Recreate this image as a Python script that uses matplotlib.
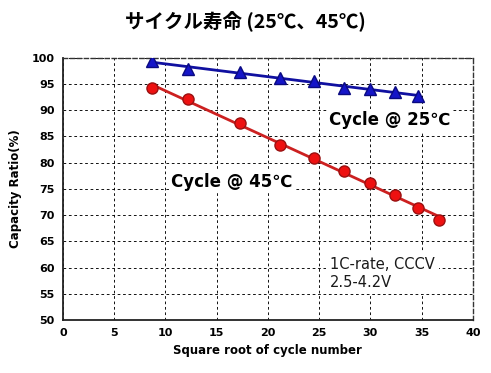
import numpy as np
import matplotlib

matplotlib.use("Agg")
import matplotlib.pyplot as plt

plt.rcParams["font.family"] = ["DejaVu Sans", "Noto Sans CJK JP"]

# sqrt of cycle number
x_25 = [8.66, 12.25, 17.32, 21.21, 24.49, 27.39, 30.0, 32.40, 34.64]
cap_25 = [99.3, 97.9, 97.3, 96.2, 95.5, 94.3, 94.0, 93.4, 92.8]
x_45 = [8.66, 12.25, 17.32, 21.21, 24.49, 27.39, 30.0, 32.40, 34.64, 36.74]
cap_45 = [94.2, 92.1, 87.5, 83.3, 80.9, 78.4, 76.2, 73.9, 71.4, 69.0]

xticks = [0, 5, 10, 15, 20, 25, 30, 35, 40]
yticks = [50, 55, 60, 65, 70, 75, 80, 85, 90, 95, 100]

fig = plt.figure(figsize=(4.91, 3.73), dpi=100)
ax = fig.add_axes([0.128, 0.142, 0.835, 0.703])

ax.set_xlim(0, 40)
ax.set_ylim(50, 100)
ax.set_xticks(xticks)
ax.set_yticks(yticks)
ax.grid(True, color="black", linestyle=(0, (3, 3)), linewidth=0.65)
ax.tick_params(length=0, labelsize=8, pad=6)
for lab in ax.get_xticklabels() + ax.get_yticklabels():
    lab.set_fontweight("bold")

for side in ("left", "bottom"):
    ax.spines[side].set_linewidth(1.3)
    ax.spines[side].set_color("#222222")
for side in ("top", "right"):
    ax.spines[side].set_linestyle((0, (3, 2)))
    ax.spines[side].set_linewidth(1.0)
    ax.spines[side].set_color("#333333")

# fitted trend lines
for xs, ys, col in ((x_25, cap_25, "#1010a0"), (x_45, cap_45, "#cc2020")):
    k, b = np.polyfit(xs, ys, 1)
    xx = np.array([xs[0], xs[-1]])
    ax.plot(xx, k * xx + b, color=col, linewidth=2.0, zorder=3)

ax.plot(x_25, cap_25, linestyle="none", marker="^", markersize=9,
        color="#1515c8", markeredgecolor="#0a0a80", zorder=4)
ax.plot(x_45, cap_45, linestyle="none", marker="o", markersize=8,
        color="#ee1111", markeredgecolor="#991111", zorder=4)

box = dict(facecolor="white", edgecolor="none", pad=1.5)
ax.text(26.0, 88.2, "Cycle @ 25℃", fontsize=12, fontweight="bold",
        va="center", ha="left", bbox=box, zorder=5)
ax.text(10.6, 76.4, "Cycle @ 45℃", fontsize=12, fontweight="bold",
        va="center", ha="left", bbox=box, zorder=5)
ax.text(26.1, 58.9, "1C-rate, CCCV\n2.5-4.2V", fontsize=10.5,
        va="center", ha="left", linespacing=1.3, color="#1a1a1a",
        bbox=dict(facecolor="white", edgecolor="none", pad=3), zorder=5)

ax.set_xlabel("Square root of cycle number", fontsize=8.5, fontweight="bold", labelpad=4)
ax.set_ylabel("Capacity Ratio(%)", fontsize=8.5, fontweight="bold", labelpad=7)

fig.text(0.5, 0.945, "サイクル寿命 (25℃、45℃)", ha="center", va="center",
         fontsize=14, fontweight="bold", family=["Noto Sans CJK JP", "DejaVu Sans"])

fig.savefig("out.png", dpi=100, facecolor="white")
